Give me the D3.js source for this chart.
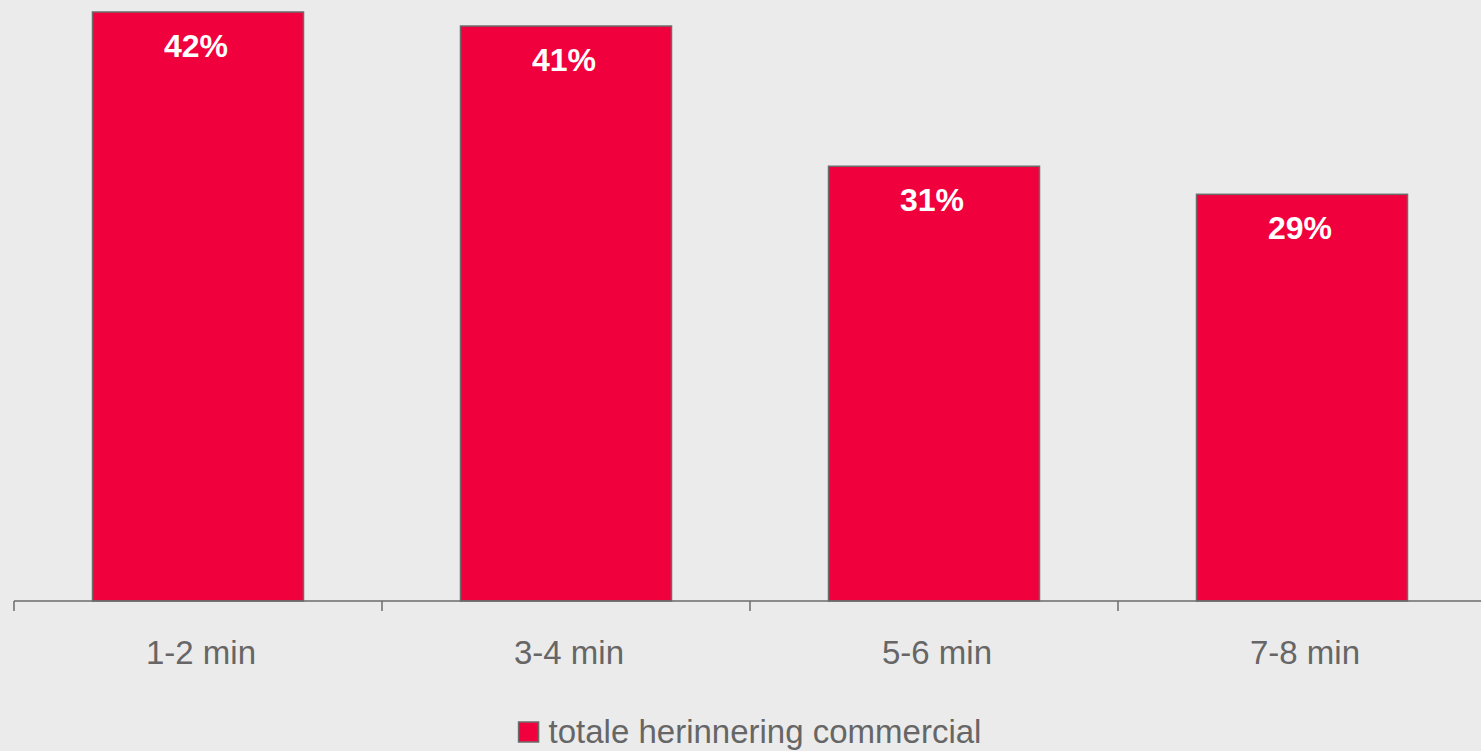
<!DOCTYPE html>
<html>
<head>
<meta charset="utf-8">
<script src="https://cdn.jsdelivr.net/npm/d3@7/dist/d3.min.js"></script>
<style>
  html, body { margin: 0; padding: 0; background: #ebebeb; }
  svg { display: block; }
  text { font-family: "Liberation Sans", Arial, sans-serif; }
</style>
</head>
<body>
<svg id="chart" width="1481" height="751"></svg>
<script>
// Recall per commercial length
const categories = ["1-2 min", "3-4 min", "5-6 min", "7-8 min"];
const values = [42, 41, 31, 29];
const valueLabels = ["42%", "41%", "31%", "29%"];
const seriesName = "totale herinnering commercial";

const W = 1481, H = 751;
const barColor = "#f0003c";
const strokeColor = "#6b6b6b";
const textGrey = "#666666";

const svg = d3.select("#chart");
svg.append("rect").attr("width", W).attr("height", H).attr("fill", "#ebebeb");

const left = 14, right = 1486, baseY = 601;

// category slots (for ticks) and bars inside them
const slot = d3.scaleBand().domain(categories).range([left, right]).padding(0);
const x = d3.scaleBand().domain(categories).range([left, right])
  .paddingInner(0.4266).paddingOuter(0.2133);
const y = d3.scaleLinear().domain([0, 42]).range([baseY, 12]);

// bars
svg.append("g").selectAll("rect").data(values).join("rect")
  .attr("x", (d, i) => x(categories[i]))
  .attr("y", d => y(d))
  .attr("width", x.bandwidth())
  .attr("height", d => y(0) - y(d))
  .attr("fill", barColor)
  .attr("stroke", strokeColor)
  .attr("stroke-width", 1.5);

// value labels inside bar tops
svg.append("g").selectAll("text").data(values).join("text")
  .attr("x", (d, i) => x(categories[i]) + x.bandwidth() / 2 - 2)
  .attr("y", d => y(d) + 45)
  .attr("text-anchor", "middle")
  .attr("fill", "#ffffff")
  .attr("font-weight", "bold")
  .attr("font-size", 32)
  .text((d, i) => valueLabels[i]);

// category axis
const axis = d3.axisBottom(slot).tickSize(0).tickPadding(0);
const gx = svg.append("g").attr("transform", `translate(0,${baseY})`).call(axis);
gx.select(".domain").remove();
gx.selectAll(".tick").attr("transform", d => `translate(${slot(d) + slot.bandwidth() / 2 + 3},0)`);
gx.selectAll("text")
  .attr("dy", null)
  .attr("y", 63)
  .attr("font-size", 33)
  .attr("font-family", "\"Liberation Sans\", Arial, sans-serif")
  .attr("fill", textGrey);

gx.append("line")
  .attr("x1", left).attr("x2", right)
  .attr("y1", 0).attr("y2", 0)
  .attr("stroke", strokeColor).attr("stroke-width", 1.5);

const boundaries = categories.map(c => slot(c)).concat([right]);
gx.selectAll("line.bound").data(boundaries).join("line")
  .attr("class", "bound")
  .attr("x1", d => d).attr("x2", d => d)
  .attr("y1", 0).attr("y2", 10)
  .attr("stroke", strokeColor).attr("stroke-width", 1.5);

// legend
const legend = svg.append("g");
const legendText = legend.append("text")
  .attr("x", 548).attr("y", 743)
  .attr("font-size", 33)
  .attr("fill", textGrey)
  .text(seriesName);
const tw = legendText.node().getComputedTextLength();
const totalW = 30 + tw;
const startX = (left + right) / 2 - totalW / 2;
legendText.attr("x", startX + 30);
legend.append("rect")
  .attr("x", startX).attr("y", 722)
  .attr("width", 20).attr("height", 20)
  .attr("fill", barColor)
  .attr("stroke", strokeColor).attr("stroke-width", 1.5);
</script>
</body>
</html>
